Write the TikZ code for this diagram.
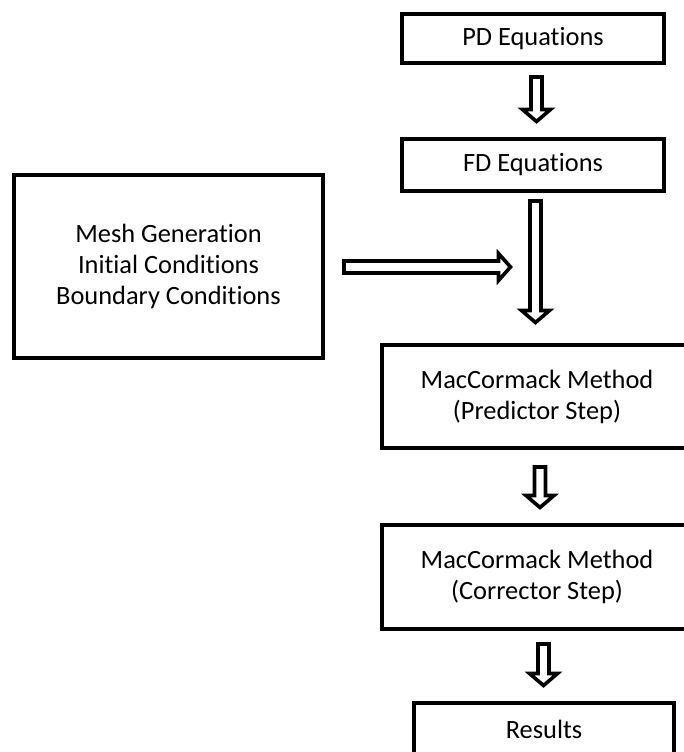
\documentclass[tikz,border=0pt]{standalone}
\usepackage{fontspec}
\setmainfont{Carlito}[Ligatures={NoCommon}, RawFeature={-liga}]
\usetikzlibrary{calc}
\tikzset{
  box/.style={draw=black, line width=3pt, fill=white, inner sep=0pt, align=center,
    font=\fontsize{19.8}{23.3}\selectfont},
  harrow/.style={draw=black, line width=2.7pt, fill=white, line join=miter, miter limit=10}
}
% vertical hollow arrow from #1 (tail) down to #2 (tip)
\newcommand\hdown[2]{%
  \draw[harrow] ($(#1)+(-5.5,0)$) -- ($(#1)+(5.5,0)$) -- ($(#2)+(5.5,-12)$)
    -- ($(#2)+(14,-12)$) -- (#2) -- ($(#2)+(-14,-12)$) -- ($(#2)+(-5.5,-12)$) -- cycle;}
\begin{document}
\begin{tikzpicture}[x=0.75pt,y=-0.75pt]
\useasboundingbox (0,0) rectangle (684,752);
\fill[white] (0,0) rectangle (684,752);
\clip (0,0) rectangle (684,752);

\node[box, minimum width=196.5pt, minimum height=36.75pt] (pd) at (533,38.5) {PD Equations};
\node[box, minimum width=196.5pt, minimum height=39pt] (fd) at (533,165) {FD Equations};
\node[box, minimum width=231.75pt, minimum height=137.25pt] (init) at (168.5,266.5)
  {Mesh Generation\\Initial Conditions\\Boundary Conditions};
\node[box, minimum width=232.5pt, minimum height=77.25pt] (pred) at (537,396.5)
  {MacCormack Method\\(Predictor Step)};
\node[box, minimum width=232.5pt, minimum height=78pt] (corr) at (537,577)
  {MacCormack Method\\(Corrector Step)};
\node[box, minimum width=195pt, minimum height=39pt] (res) at (544,729) {Results};

% arrow end points
\coordinate (a1s) at (536.5,77);
\coordinate (a1e) at (536.5,121.5);
\coordinate (a2s) at (535.5,201);
\coordinate (a2e) at (535.5,322.5);
\coordinate (a3s) at (344,267);
\coordinate (a3e) at (510.5,267);
\coordinate (a4s) at (540,467);
\coordinate (a4e) at (540,507.5);
\coordinate (a5s) at (543.5,644);
\coordinate (a5e) at (543.5,685.5);

\hdown{a1s}{a1e}
\hdown{a2s}{a2e}
\hdown{a4s}{a4e}
\hdown{a5s}{a5e}
\draw[harrow] ($(a3s)+(0,-6)$) -- ($(a3e)+(-12,-6)$) -- ($(a3e)+(-12,-13.5)$) -- (a3e)
  -- ($(a3e)+(-12,13.5)$) -- ($(a3e)+(-12,6)$) -- ($(a3s)+(0,6)$) -- cycle;
\end{tikzpicture}
\end{document}
